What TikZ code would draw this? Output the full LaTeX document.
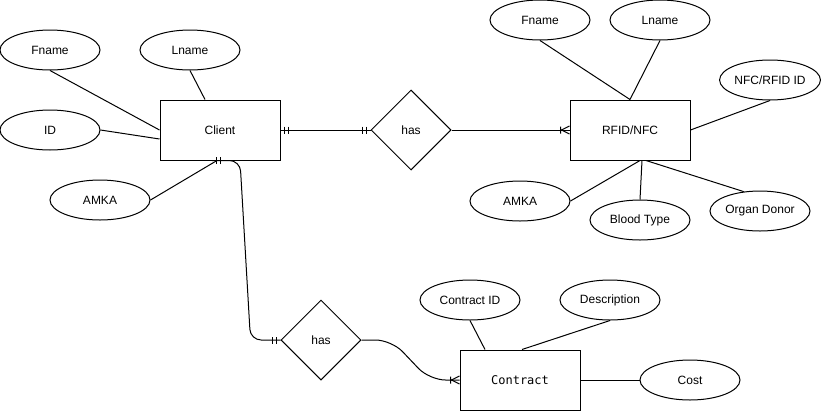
\documentclass[tikz,border=0pt]{standalone}
\usepackage{fontspec}
\setmainfont{Liberation Sans}
\newfontfamily\monofont{DejaVu Sans Mono}
\usetikzlibrary{shapes.geometric, calc, decorations.markings}

\tikzset{
  entity/.style={draw, rectangle, minimum width=90pt, minimum height=45pt, inner sep=0pt},
  attrib/.style={draw, ellipse, minimum width=75pt, minimum height=30pt, inner sep=0pt},
  relation/.style={draw, diamond, minimum width=60pt, minimum height=60pt, inner sep=0pt},
  mandstart/.style={postaction={decorate, decoration={markings,
      mark=at position 0 with {\draw (4,-3.5) -- (4,3.5) (8,-3.5) -- (8,3.5);}}}},
  mandend/.style={postaction={decorate, decoration={markings,
      mark=at position 1 with {\draw (-4,-3.5) -- (-4,3.5) (-8,-3.5) -- (-8,3.5);}}}},
  manyend/.style={postaction={decorate, decoration={markings,
      mark=at position 1 with {\draw (-9,-3.5) -- (-9,3.5) (-8,0) -- (0,-4) (-8,0) -- (0,4);}}}}
}

\begin{document}
\begin{tikzpicture}[x=0.75pt, y=-0.75pt, line width=0.75pt,
    every node/.style={font=\fontsize{9}{11}\selectfont}]
      \useasboundingbox (0,0) rectangle (821,411);

      % Draw the entities
      \node[entity] (client) at (220,130) {Client};
      \node[entity] (rfid) at (630,130) {RFID/NFC};
      \node[entity] (contract) at (520,380) {\monofont Contract};

      % Draw the relations
      \node[relation] (hasrfid) at (411,130) {has};
      \node[relation] (hascontract) at (321,340) {has};

      % Attributes of the client
      \node[attrib] (cfname) at (50,50) {Fname};
      \node[attrib] (clname) at (190,50) {Lname};
      \node[attrib] (cid) at (50,130) {ID};
      \node[attrib] (camka) at (100,200) {AMKA};

      % Attributes of the card
      \node[attrib] (rfname) at (540,20) {Fname};
      \node[attrib] (rlname) at (660,20) {Lname};
      \node[attrib] (rcardid) at (770,80) {NFC/RFID ID};
      \node[attrib] (ramka) at (520,201) {AMKA};
      \node[attrib] (rblood) at (640,220) {Blood Type};
      \node[attrib] (rdonor) at (760,211) {Organ Donor};

      % Attributes of the contract
      \node[attrib] (kid) at (470,300) {Contract ID};
      \node[attrib] (kdesc) at (610,300) {Description};
      \node[attrib] (kcost) at (690,380) {Cost};

      % Draw the attribute lines
      \draw (cfname.south) -- (client.west);
      \draw (clname.south) -- ($(client.north)+(-15,0)$);
      \draw (cid.east) -- ($(client.west)+(0,9)$);
      \draw (camka.east) -- ($(client.south)+(-3,0)$);

      \draw (rfname.south) -- (rfid.north);
      \draw (rlname.south) -- (rfid.north);
      \draw (rcardid.south) -- (rfid.east);
      \draw (ramka.east) -- ($(rfid.south)+(10,0)$);
      \draw (rblood.north) -- ($(rfid.south)+(12,0)$);
      \draw (rdonor.130) -- ($(rfid.south)+(16,0)$);

      \draw (kid.south) -- ($(contract.north)+(-35,0)$);
      \draw (kdesc.south) -- ($(contract.north)+(2,0)$);
      \draw (contract.east) -- (kcost.west);

      % Draw the relationship connectors
      \draw[mandstart, mandend] (client.east) -- (hasrfid.west);
      \draw[manyend] (hasrfid.east) -- (rfid.west);

      \draw[mandstart, mandend, rounded corners=8pt] (hascontract.west) -- ($(hascontract.west)+(-30,0)$)
          -- ($(client.south)+(20,0)$) -- ($(client.south)+(-8,0)$);
      \draw[manyend, rounded corners=12pt] (hascontract.east) -- ($(hascontract.east)+(30,0)$)
          -- ($(contract.west)+(-30,0)$) -- (contract.west);

\end{tikzpicture}
\end{document}
